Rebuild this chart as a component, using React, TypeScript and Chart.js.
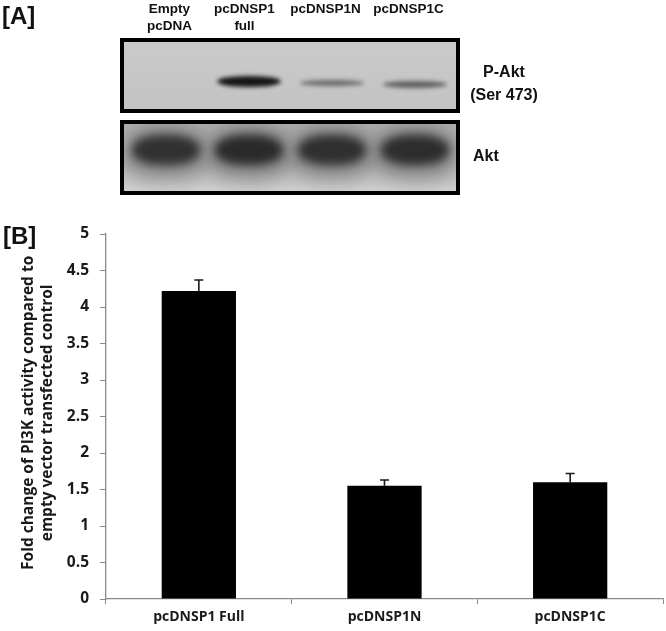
import React, { useEffect, useRef } from "react";
import { Chart, registerables } from "chart.js";

Chart.register(...registerables);

// ---- Panel B data ----
const categories = ["pcDNSP1 Full", "pcDNSP1N", "pcDNSP1C"];
const foldChange = [4.22, 1.55, 1.6];
const errorUp = [0.15, 0.08, 0.12];
const yMin = 0;
const yMax = 5;
const yStep = 0.5;
const yTitleLines = [
  "Fold change of PI3K activity compared to",
  "empty vector transfected control",
];

// ---- Panel A data (western blot) ----
const laneLabels = [["Empty", "pcDNA"], ["pcDNSP1", "full"], ["pcDNSP1N"], ["pcDNSP1C"]];
const pAktIntensity = [0, 0.95, 0.28, 0.36];
const aktIntensity = [0.86, 0.92, 0.88, 0.9];
const blotRowLabels = [["P-Akt", "(Ser 473)"], ["Akt"]];

const AXIS = "#8a8a8a";
const TEXT = "#1a1a1a";
const FONT_B = "'Open Sans', 'DejaVu Sans', sans-serif";
const FONT_A = "'Liberation Sans', Arial, sans-serif";

const errorBarPlugin = {
  id: "errorBars",
  afterDatasetsDraw(chart: any) {
    const ctx = chart.ctx;
    const meta = chart.getDatasetMeta(0);
    const y = chart.scales.y;
    ctx.save();
    ctx.strokeStyle = "#1a1a1a";
    ctx.lineWidth = 1.6;
    meta.data.forEach((bar: any, i: number) => {
      const x = bar.x;
      const top = y.getPixelForValue(foldChange[i]);
      const up = y.getPixelForValue(foldChange[i] + errorUp[i]);
      ctx.beginPath();
      ctx.moveTo(x, top);
      ctx.lineTo(x, up);
      ctx.moveTo(x - 4.5, up);
      ctx.lineTo(x + 4.5, up);
      ctx.stroke();
    });
    ctx.restore();
  },
};

const yTitlePlugin = {
  id: "yTitle",
  afterDraw(chart: any) {
    const ctx = chart.ctx;
    const area = chart.chartArea;
    const cy = area.top + (area.bottom - area.top) * 0.49;
    ctx.save();
    ctx.fillStyle = TEXT;
    ctx.font = `bold 15.5px ${FONT_B}`;
    ctx.textAlign = "center";
    ctx.textBaseline = "middle";
    yTitleLines.forEach((line, i) => {
      ctx.save();
      ctx.translate(29 + i * 19, cy);
      ctx.rotate(-Math.PI / 2);
      ctx.fillText(line, 0, 0);
      ctx.restore();
    });
    ctx.restore();
  },
};

function Blot() {
  const boxLeft = 120;
  const boxWidth = 340;
  const border = 4;
  const innerW = boxWidth - border * 2;
  const laneW = innerW / laneLabels.length;
  const laneCenter = (i: number) => border + laneW * (i + 0.5);

  const boxStyle = (top: number, bg: string): React.CSSProperties => ({
    position: "absolute",
    left: boxLeft,
    top,
    width: boxWidth,
    height: 75,
    boxSizing: "border-box",
    border: `${border}px solid #000`,
    background: bg,
    overflow: "hidden",
  });

  return (
    <>
      <div
        style={{
          position: "absolute",
          left: 2,
          top: 4,
          font: `bold 24px/24px ${FONT_A}`,
          color: "#111",
        }}
      >
        [A]
      </div>
      {laneLabels.map((lines, i) => (
        <div
          key={i}
          style={{
            position: "absolute",
            left: boxLeft + laneCenter(i) - 45 + (i === 0 ? 4 : i === 1 ? -4 : -6),
            width: 90,
            top: 0,
            textAlign: "center",
            font: `bold 13.5px/17px ${FONT_A}`,
            color: "#111",
          }}
        >
          {lines.map((l, j) => (
            <div key={j}>{l}</div>
          ))}
        </div>
      ))}
      {/* upper blot: P-Akt */}
      <div style={boxStyle(38, "linear-gradient(#cacaca, #c3c3c3)")}>
        {pAktIntensity.map((v, i) =>
          v > 0 ? (
            <div
              key={i}
              style={{
                position: "absolute",
                left: laneCenter(i) - border - 32,
                top: 40 - border + i * 1.5 - 4 * v,
                width: 64,
                height: 4 + 8 * v,
                borderRadius: "50%",
                background: `rgba(15,15,15,${0.3 + 0.7 * v})`,
                filter: "blur(2px)",
              }}
            />
          ) : null
        )}
      </div>
      {/* lower blot: Akt */}
      <div style={boxStyle(120, "linear-gradient(#b0b0b0, #bababa 60%, #d0d0d0)")}>
        {aktIntensity.map((v, i) => (
          <React.Fragment key={i}>
            <div
              style={{
                position: "absolute",
                left: laneCenter(i) - border - 42,
                top: 2,
                width: 84,
                height: 54,
                borderRadius: "40%",
                background: `rgba(80,80,80,${0.55 * v})`,
                filter: "blur(9px)",
              }}
            />
            <div
              style={{
                position: "absolute",
                left: laneCenter(i) - border - 34,
                top: 11,
                width: 68,
                height: 30,
                borderRadius: "45%",
                background: `rgba(35,35,35,${v})`,
                filter: "blur(5px)",
              }}
            />
          </React.Fragment>
        ))}
      </div>
      <div
        style={{
          position: "absolute",
          left: 464,
          width: 80,
          top: 60,
          textAlign: "center",
          font: `bold 16px/23px ${FONT_A}`,
          color: "#111",
        }}
      >
        {blotRowLabels[0].map((l, j) => (
          <div key={j}>{l}</div>
        ))}
      </div>
      <div
        style={{
          position: "absolute",
          left: 473,
          top: 145,
          font: `bold 16px/22px ${FONT_A}`,
          color: "#111",
        }}
      >
        {blotRowLabels[1][0]}
      </div>
      <div
        style={{
          position: "absolute",
          left: 3,
          top: 224,
          font: `bold 24px/24px ${FONT_A}`,
          color: "#111",
        }}
      >
        [B]
      </div>
    </>
  );
}

export default function App() {
  const canvasRef = useRef<HTMLCanvasElement | null>(null);

  useEffect(() => {
    if (!canvasRef.current) return;
    const chart = new Chart(canvasRef.current, {
      type: "bar",
      data: {
        labels: categories,
        datasets: [
          {
            data: foldChange,
            backgroundColor: "#000",
            borderWidth: 0,
            barPercentage: 0.4,
            categoryPercentage: 1.0,
          },
        ],
      },
      options: {
        responsive: false,
        animation: false,
        devicePixelRatio: 1,
        layout: { padding: { top: 234, right: 3, left: 0, bottom: 0 } },
        plugins: {
          legend: { display: false },
          tooltip: { enabled: false },
          title: { display: false },
        },
        scales: {
          x: {
            grid: {
              display: true,
              drawOnChartArea: false,
              drawTicks: true,
              tickLength: 5,
              color: AXIS,
              offset: true,
            },
            border: { display: true, color: AXIS, width: 1.3 },
            ticks: {
              color: TEXT,
              padding: 5,
              font: { family: FONT_B, weight: "bold", size: 14 },
            },
            afterFit(scale: any) {
              scale.height = 32;
            },
          },
          y: {
            min: yMin,
            max: yMax,
            grid: {
              display: true,
              drawOnChartArea: false,
              drawTicks: true,
              tickLength: 6,
              color: AXIS,
            },
            border: { display: true, color: AXIS, width: 1.3 },
            ticks: {
              stepSize: yStep,
              color: TEXT,
              padding: 11,
              font: { family: FONT_B, weight: "bold", size: 15.5 },
              callback: (v: any) => String(v),
            },
            afterFit(scale: any) {
              scale.width = 106;
            },
          },
        },
      },
      plugins: [errorBarPlugin, yTitlePlugin],
    } as any);
    return () => chart.destroy();
  }, []);

  return (
    <div
      style={{
        position: "fixed",
        left: 0,
        top: 0,
        width: 666,
        height: 631,
        background: "#fff",
        overflow: "hidden",
      }}
    >
      <canvas
        ref={canvasRef}
        width={666}
        height={631}
        style={{ position: "absolute", left: 0, top: 0, width: 666, height: 631 }}
      />
      <Blot />
    </div>
  );
}
